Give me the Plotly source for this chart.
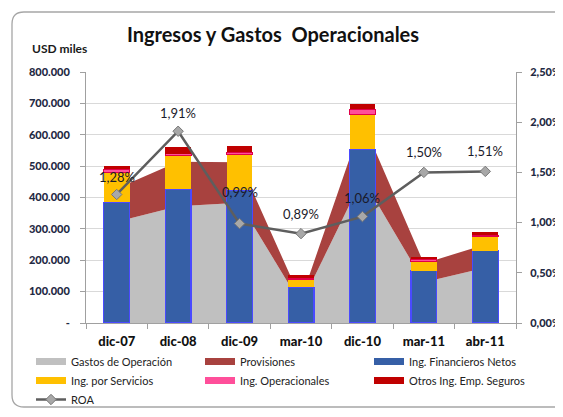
import plotly.graph_objects as go

categorias = ["dic-07", "dic-08", "dic-09", "mar-10", "dic-10", "mar-11", "abr-11"]

# Áreas (miles USD)
gastos_operacion = [323000, 372000, 383000, 60000, 461000, 130000, 176000]
provisiones = [106000, 142000, 129000, 15000, 182000, 60000, 74000]

# Barras (miles USD)
ing_financieros = [385000, 426000, 424000, 114000, 554000, 167000, 230000]
ing_servicios = [96000, 107000, 114000, 25000, 111000, 30000, 45000]
ing_operacionales = [9000, 7000, 7000, 3000, 16000, 7000, 5000]
otros_ing_seguros = [10000, 20000, 19000, 11000, 16000, 7000, 11000]

# ROA (%)
roa = [1.28, 1.91, 0.99, 0.89, 1.06, 1.50, 1.51]
roa_labels = ["1,28%", "1,91%", "0,99%", "0,89%", "1,06%", "1,50%", "1,51%"]

left_ticks = [0, 100000, 200000, 300000, 400000, 500000, 600000, 700000, 800000]
left_ticktext = ["-", "100.000", "200.000", "300.000", "400.000", "500.000", "600.000", "700.000", "800.000"]
right_ticks = [0, 0.5, 1.0, 1.5, 2.0, 2.5]
right_ticktext = ["0,00%", "0,50%", "1,00%", "1,50%", "2,00%", "2,50%"]

C_GRAY = "#C0C0C0"
C_PROV = "#A8423F"
C_BLUE = "#365FA6"
C_YEL = "#FFC000"
C_PINK = "#FF4F9A"
C_RED = "#C00000"

# page has an 8px body margin: figure drawn at (8,8); keep it inside the window
OFF = 8
W, H = 563 - OFF, 417 - 2 * OFF
L, R, T = 86 - OFF, 47, 72 - OFF
B = H - (323 - OFF)
PW, PH = W - L - R, H - T - B

def px(xp):  # reference-screen x -> paper
    return (xp - OFF - L) / PW

def py(yp):  # reference-screen y -> paper
    return (H - B - (yp - OFF)) / PH

fig = go.Figure()

# areas on base axis (behind)
fig.add_trace(go.Scatter(x=categorias, y=gastos_operacion, stackgroup="a", mode="none",
                         fillcolor=C_GRAY, name="Gastos de Operación", showlegend=False,
                         xaxis="x", yaxis="y"))
fig.add_trace(go.Scatter(x=categorias, y=provisiones, stackgroup="a", mode="none",
                         fillcolor=C_PROV, name="Provisiones", showlegend=False,
                         xaxis="x", yaxis="y"))

# bars on overlay axis
bar_specs = [
    (ing_financieros, C_BLUE, "#4A4AFF", 1.2, "Ing. Financieros Netos"),
    (ing_servicios, C_YEL, C_YEL, 0, "Ing. por Servicios"),
    (ing_operacionales, C_PINK, "#E0004A", 1, "Ing. Operacionales"),
    (otros_ing_seguros, C_RED, C_RED, 0, "Otros Ing. Emp. Seguros"),
]
for vals, col, lcol, lw, nm in bar_specs:
    fig.add_trace(go.Bar(x=categorias, y=vals, marker=dict(color=col, line=dict(color=lcol, width=lw)),
                         name=nm, showlegend=False, xaxis="x", yaxis="y2"))

# ROA line
fig.add_trace(go.Scatter(x=categorias, y=roa, mode="lines+markers", name="ROA",
                         line=dict(color="#5E5E5E", width=2.5),
                         marker=dict(symbol="diamond", size=8, color="#A8A8A8",
                                     line=dict(color="#777777", width=1)),
                         xaxis="x", yaxis="y3", legendrank=7))

# legend-only entries
legend_items = [
    ("Gastos de Operación", C_GRAY, 1),
    ("Provisiones", C_PROV, 2),
    ("Ing. Financieros Netos", C_BLUE, 3),
    ("Ing. por Servicios", C_YEL, 4),
    ("Ing. Operacionales", C_PINK, 5),
    ("Otros Ing. Emp. Seguros", C_RED, 6),
]
for nm, col, rk in legend_items:
    fig.add_trace(go.Scatter(x=[None], y=[None], mode="lines", name=nm,
                             line=dict(color=col, width=7), legendrank=rk,
                             xaxis="x", yaxis="y3"))

# ROA labels
shifts = [17, 18, 32, 20, 19, 20, 20]
for c, v, t, s in zip(categorias, roa, roa_labels, shifts):
    fig.add_annotation(x=c, y=v, xref="x", yref="y3", text=t, showarrow=False,
                       yshift=s, font=dict(size=13, color="#1A1A2A", family="Lato"))

fig.add_annotation(text="<b>USD miles</b>", x=px(30), y=py(48), xref="paper", yref="paper",
                   xanchor="left", yanchor="middle", showarrow=False,
                   font=dict(size=12, color="#1A1A1A", family="Lato"))

# rounded border (open on the right, which lies outside the window)
x0, x1, y0, y1, r = 12, 580, 12, 407, 12
path = (f"M {px(x1)},{py(y0)} "
        f"L {px(x0 + r)},{py(y0)} "
        f"Q {px(x0)},{py(y0)} {px(x0)},{py(y0 + r)} "
        f"L {px(x0)},{py(y1 - r)} "
        f"Q {px(x0)},{py(y1)} {px(x0 + r)},{py(y1)} "
        f"L {px(x1)},{py(y1)}")
fig.add_shape(type="path", path=path, xref="paper", yref="paper",
              line=dict(color="#A6A6A6", width=1.3), layer="below")

axis_col = "#A0A0A0"
fig.update_layout(
    width=W, height=H,
    margin=dict(l=L, r=R, t=T, b=B, autoexpand=False),
    paper_bgcolor="white", plot_bgcolor="white",
    barmode="stack", bargap=0.58,
    font=dict(family="Lato", size=11, color="#1A1A1A"),
    title=dict(text="<b>Ingresos y Gastos\u00a0 Operacionales</b>", x=(273 - OFF) / W, xanchor="center",
               y=1 - (35 - OFF) / H, yanchor="middle", font=dict(size=20, family="Lato", color="#111111")),
    xaxis=dict(type="category", showline=True, linecolor=axis_col, linewidth=1,
               ticks="outside", tickson="boundaries", ticklen=5, tickcolor=axis_col,
               showgrid=False, tickfont=dict(size=13, color="#111111", family="Lato Black"),
               ticklabelstandoff=6),
    yaxis=dict(range=[0, 800000], tickvals=left_ticks, ticktext=left_ticktext,
               showline=True, linecolor=axis_col, linewidth=1, ticks="outside", ticklen=5,
               tickcolor=axis_col, showgrid=True, gridcolor="#D9D9D9", gridwidth=1,
               tickfont=dict(size=11, color="#1F2A44", family="Lato Black"),
               ticklabelstandoff=8, zeroline=False),
    yaxis2=dict(range=[0, 800000], overlaying="y", visible=False),
    yaxis3=dict(range=[0, 2.5], overlaying="y", side="right", tickvals=right_ticks,
                ticktext=right_ticktext, showline=True, linecolor=axis_col, linewidth=1,
                ticks="outside", ticklen=5, tickcolor=axis_col, showgrid=False, zeroline=False,
                tickfont=dict(size=11, color="#1F2A44", family="Lato Black"),
                ticklabelstandoff=6),
    legend=dict(orientation="h", x=px(31), y=py(347), xanchor="left", yanchor="top",
                entrywidth=124, entrywidthmode="pixels", traceorder="normal",
                font=dict(size=11, color="#222222", family="Lato"),
                itemwidth=30, tracegroupgap=0, bgcolor="rgba(0,0,0,0)"),
)

fig.write_html("out.html")
